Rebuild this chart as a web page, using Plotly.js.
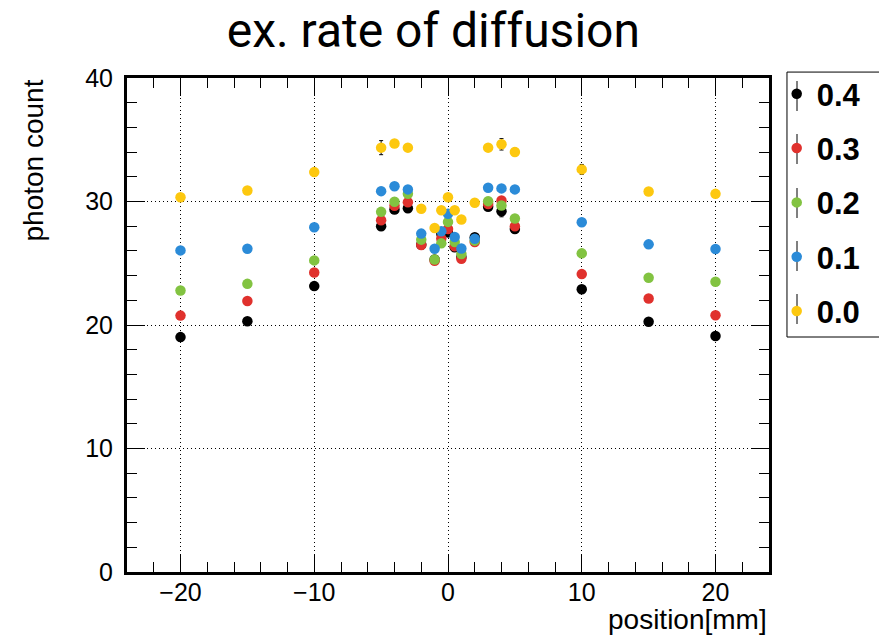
<!DOCTYPE html>
<html>
<head>
<meta charset="utf-8">
<script src="https://cdn.plot.ly/plotly-3.0.1.min.js"></script>
<style>html,body{margin:0;padding:0;background:#fff;}#chart{width:879px;height:636px;}</style>
</head>
<body>
<div id="chart"></div>
<script>
// positions [mm]
const positions = [-20, -15, -10, -5, -4, -3, -2, -1, -0.5, 0, 0.5, 1, 2, 3, 4, 5, 10, 15, 20];

// series names (ex. rate of diffusion)
const seriesNames = ["0.4", "0.3", "0.2", "0.1", "0.0"];

// photon counts
const count04 = [19.02, 20.30, 23.15, 27.99, 29.35, 29.46, 26.50, 25.30, 27.40, 27.50, 26.30, 25.50, 27.10, 29.57, 29.21, 27.78, 22.90, 20.27, 19.11];
const count03 = [20.76, 21.95, 24.25, 28.48, 29.65, 29.94, 26.48, 25.20, 27.00, 27.78, 26.37, 25.37, 26.72, 29.80, 30.08, 27.99, 24.12, 22.14, 20.79];
const count02 = [22.79, 23.33, 25.23, 29.16, 29.98, 30.62, 26.91, 25.31, 26.61, 28.35, 26.72, 25.75, 26.83, 30.03, 29.67, 28.62, 25.80, 23.82, 23.50];
const count01 = [26.04, 26.18, 27.91, 30.84, 31.24, 30.98, 27.40, 26.18, 27.59, 29.00, 27.13, 26.20, 26.99, 31.11, 31.06, 30.98, 28.32, 26.53, 26.15];
const count00 = [30.35, 30.89, 32.38, 34.36, 34.69, 34.36, 29.41, 27.86, 29.29, 30.35, 29.29, 28.54, 29.90, 34.36, 34.63, 34.01, 32.60, 30.81, 30.62];

// statistical errors
const err04 = [0.25, 0.25, 0.25, 0.30, 0.30, 0.30, 0.25, 0.25, 0.25, 0.25, 0.25, 0.25, 0.25, 0.30, 0.45, 0.30, 0.25, 0.25, 0.25];
const err03 = [0.25, 0.25, 0.25, 0.30, 0.30, 0.30, 0.25, 0.25, 0.25, 0.25, 0.25, 0.25, 0.25, 0.30, 0.30, 0.30, 0.25, 0.25, 0.25];
const err02 = [0.25, 0.25, 0.25, 0.30, 0.30, 0.30, 0.25, 0.25, 0.25, 0.25, 0.25, 0.25, 0.25, 0.30, 0.30, 0.30, 0.25, 0.25, 0.25];
const err01 = [0.25, 0.25, 0.25, 0.30, 0.30, 0.30, 0.25, 0.25, 0.25, 0.25, 0.25, 0.25, 0.25, 0.30, 0.30, 0.30, 0.25, 0.25, 0.25];
const err00 = [0.25, 0.25, 0.30, 0.57, 0.30, 0.30, 0.25, 0.25, 0.25, 0.25, 0.25, 0.25, 0.25, 0.30, 0.46, 0.30, 0.40, 0.25, 0.25];

const seriesValues = [count04, count03, count02, count01, count00];
const seriesErrors = [err04, err03, err02, err01, err00];
const seriesColors = ["#000000", "#e0312d", "#82c341", "#2b8bd8", "#fdc80f"];

const traces = seriesNames.map((name, i) => ({
  type: "scatter",
  mode: "markers",
  name: name,
  legendgroup: "g" + i,
  x: positions,
  y: seriesValues[i],
  error_y: {type: "data", array: seriesErrors[i], visible: true, color: "#000", thickness: 1, width: 2},
  marker: {color: seriesColors[i], size: 10.5, line: {width: 0}},
  cliponaxis: false
}));

const axisFont = {family: "Liberation Sans, Arial, sans-serif", size: 25, color: "#000"};
const titleFont = {family: "Liberation Sans, Arial, sans-serif", size: 28, color: "#000"};

// legend symbol error-bar strokes (decoration next to legend markers)
const legendLineX = (797 - 127) / 642;
const legendRowsPx = [96, 149, 203, 256, 309];
const legendShapes = legendRowsPx.map(py => ({
  type: "line", xref: "paper", yref: "paper",
  x0: legendLineX, x1: legendLineX,
  y0: (572 - (py + 15)) / 494, y1: (572 - (py - 15)) / 494,
  line: {color: "#000", width: 1}, layer: "below"
}));

const layout = {
  width: 879,
  height: 636,
  margin: {l: 127, r: 110, t: 78, b: 64},
  paper_bgcolor: "#fff",
  plot_bgcolor: "#fff",
  showlegend: true,
  title: {
    text: "ex. rate of diffusion",
    font: {family: "Roboto, sans-serif", size: 48, color: "#000"},
    x: 0.493, xanchor: "center", xref: "container",
    y: 0.953, yanchor: "middle", yref: "container"
  },
  xaxis: {
    range: [-24, 24], tick0: 0, dtick: 10,
    showline: true, linecolor: "#000", linewidth: 3, mirror: "allticks",
    ticks: "inside", ticklen: 18, tickwidth: 1, tickcolor: "#000",
    minor: {dtick: 2, ticks: "inside", ticklen: 10, tickwidth: 1, tickcolor: "#000", showgrid: false},
    showgrid: true, gridcolor: "#000", gridwidth: 1, griddash: "1px,3px",
    zeroline: false, tickfont: axisFont, ticklabelstandoff: -4
  },
  yaxis: {
    range: [0, 40], tick0: 0, dtick: 10,
    showline: true, linecolor: "#000", linewidth: 3, mirror: "allticks",
    ticks: "inside", ticklen: 18, tickwidth: 1, tickcolor: "#000",
    minor: {dtick: 2, ticks: "inside", ticklen: 10, tickwidth: 1, tickcolor: "#000", showgrid: false},
    showgrid: true, gridcolor: "#000", gridwidth: 1, griddash: "1px,3px",
    zeroline: false, tickfont: axisFont, ticklabelstandoff: 6
  },
  legend: {
    x: 1.012, xanchor: "left", y: 1.022, yanchor: "top",
    bgcolor: "rgba(0,0,0,0)", borderwidth: 0,
    font: {family: "Liberation Sans, Arial, sans-serif", size: 31, weight: "bold", color: "#000"},
    tracegroupgap: 11, traceorder: "grouped", itemclick: false
  },
  annotations: [
    {text: "photon count", textangle: -90, xref: "paper", yref: "paper", x: -0.1464, y: 0.833,
     xanchor: "center", yanchor: "middle", showarrow: false, font: titleFont},
    {text: "position[mm]", xref: "paper", yref: "paper", x: 1.0, y: -0.097,
     xanchor: "right", yanchor: "middle", showarrow: false, font: titleFont}
  ],
  shapes: [
    {type: "rect", xref: "paper", yref: "paper", x0: 1.028, x1: 1.35, y0: 0.4757, y1: 1.012,
     line: {color: "#000", width: 1}, fillcolor: "rgba(0,0,0,0)", layer: "above"}
  ].concat(legendShapes)
};

Plotly.newPlot("chart", traces, layout, {displayModeBar: false, staticPlot: true});
</script>
</body>
</html>
